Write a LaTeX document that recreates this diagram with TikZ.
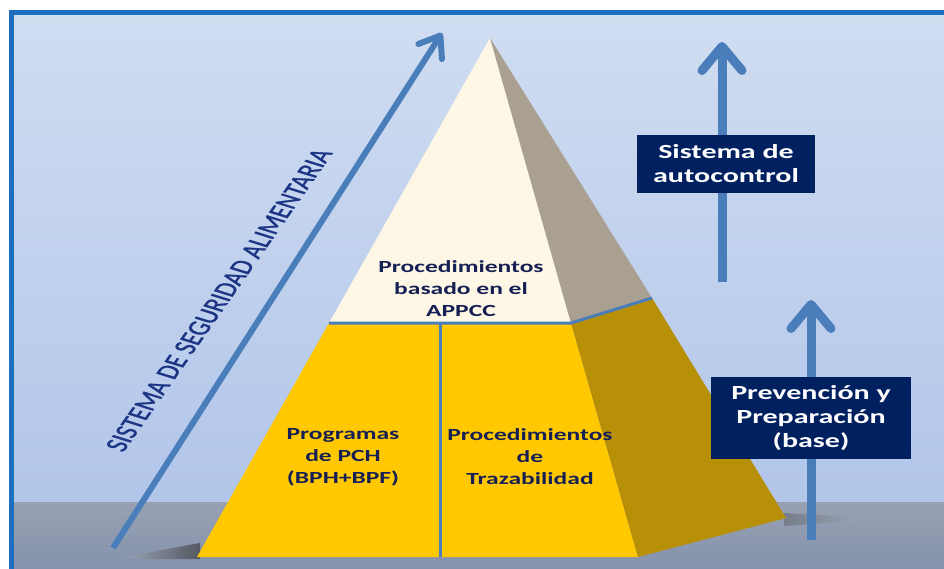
\documentclass[tikz,border=0pt]{standalone}
\usepackage{fontspec}
\setmainfont{Carlito}
\newfontfamily\widefont[FakeStretch=1.5]{Carlito}
\newfontfamily\titlefont[FakeBold=1.2]{Carlito}
\usetikzlibrary{arrows.meta}
\definecolor{skytop}{RGB}{208,221,241}
\definecolor{skybot}{RGB}{178,198,234}
\definecolor{groundtop}{RGB}{152,161,178}
\definecolor{groundbot}{RGB}{132,146,172}
\definecolor{framecol}{RGB}{28,110,190}
\definecolor{steel}{RGB}{74,126,187}
\definecolor{navy}{RGB}{0,32,96}
\definecolor{inktext}{RGB}{22,32,84}
\definecolor{titletext}{RGB}{28,52,132}
\definecolor{cream}{RGB}{254,247,229}
\definecolor{stone}{RGB}{170,160,146}
\definecolor{gold}{RGB}{255,200,0}
\definecolor{darkgold}{RGB}{184,144,8}
\tikzset{
  bluline/.style={draw=steel, line width=3pt},
  uparrow/.style={draw=steel, line width=9pt, -{Straight Barb[length=24pt,width=40pt,round]}},
  navybox/.style={fill=navy, text=white, font=\widefont\bfseries\fontsize{20}{24}\selectfont, align=center, inner sep=0pt},
  pyrtext/.style={text=inktext, font=\widefont\bfseries\fontsize{17}{22}\selectfont, align=center},
}
\begin{document}
\begin{tikzpicture}[x=1pt,y=-1pt]
  \useasboundingbox (0,0) rectangle (944,569);
  % background
  \fill[white] (0,0) rectangle (944,569);
  \shade[top color=skytop, bottom color=skybot] (11,13) rectangle (944,502);
  \shade[top color=groundtop, bottom color=groundbot] (11,502) rectangle (944,569);
  \draw[framecol, line width=5pt] (11,569) -- (11,13) -- (944,13);

  % pyramid corners
  \coordinate (apex) at (490,38);
  \coordinate (baseL) at (197,557);
  \coordinate (baseM) at (638,557);
  \coordinate (baseR) at (786,518);
  \coordinate (cutL) at (329,323);
  \coordinate (cutM) at (571,323);
  \coordinate (cutR) at (652,298);
  \coordinate (midT) at (440,323);
  \coordinate (midB) at (440,557);

  % shadows
  \shade[left color=groundtop, right color=black!45!groundtop] (125,557) -- (200,543) -- (200,559) -- (145,559) -- cycle;
  \shade[left color=black!22!groundtop, right color=groundtop] (784,513) -- (855,517) -- (855,521) -- (784,526) -- cycle;

  \fill[cream] (apex) -- (cutL) -- (cutM) -- cycle;
  \fill[stone] (apex) -- (cutM) -- (cutR) -- cycle;
  \fill[gold] (cutL) -- (baseL) -- (baseM) -- (cutM) -- cycle;
  \fill[darkgold] (cutM) -- (baseM) -- (baseR) -- (cutR) -- cycle;
  \draw[bluline] (cutL) -- (cutM) -- (cutR);
  \draw[bluline] (midT) -- (midB);

  % arrows
  \coordinate (diagS) at (113,548);
  \coordinate (diagE) at (442,33);
  \draw[steel, line width=6pt, -{Straight Barb[length=19pt,width=28pt,round]}] (diagS) -- (diagE);
  \coordinate (autoS) at (722,282);
  \coordinate (autoE) at (722,42);
  \draw[uparrow] (autoS) -- (autoE);
  \coordinate (prevS) at (811,540);
  \coordinate (prevE) at (811,300);
  \draw[uparrow] (prevS) -- (prevE);

  \node[navybox, minimum width=178pt, minimum height=58pt] (autoctl) at (726,164) {Sistema de\\autocontrol};
  \node[navybox, minimum width=200pt, minimum height=82pt] (prevbox) at (811,418) {Prevención y\\Preparación\\(base)};

  \node[pyrtext] (appcc) at (461,289) {Procedimientos\\basado en el\\APPCC};
  \node[pyrtext] (pch) at (343,457) {Programas\\de PCH\\(BPH+BPF)};
  \node[pyrtext] (traza) at (530,457) {Procedimientos\\de\\Trazabilidad};
  \begin{scope}[xscale=1.5]
    \node[text=titletext, font=\titlefont\fontsize{21}{26}\selectfont, transform shape, rotate=65, inner sep=0pt] (sistema) at (146,300) {SISTEMA DE SEGURIDAD ALIMENTARIA};
  \end{scope}
\end{tikzpicture}
\end{document}
